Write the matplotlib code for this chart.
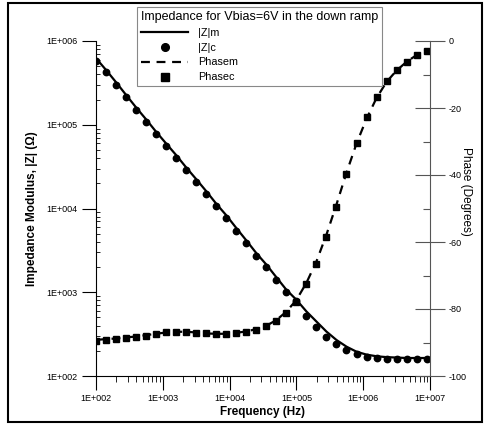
import matplotlib
matplotlib.use("Agg")
import matplotlib.pyplot as plt
from matplotlib.ticker import FuncFormatter, LogLocator, MultipleLocator
from matplotlib.patches import Rectangle
import numpy as np

plt.rcParams['font.family'] = ['Liberation Sans', 'DejaVu Sans']
plt.rcParams['axes.unicode_minus'] = False

# frequencies of the simulated / computed points (Hz)
freq = [100, 141, 200, 282, 398, 562, 794, 1122, 1585, 2239, 3162, 4467,
        6310, 8913, 12589, 17783, 25119, 35481, 50119, 70795, 100000,
        141254, 199526, 281838, 398107, 562341, 794328, 1122018, 1584893,
        2238721, 3162278, 4466836, 6309573, 8912509]

# |Z| measured (line) and computed (circles), Ohm
z_m = [6.22e5, 4.52e5, 3.21e5, 2.27e5, 1.61e5, 1.16e5, 8.24e4, 5.97e4,
       4.34e4, 3.09e4, 2.24e4, 1.61e4, 1.14e4, 8300, 5850, 4160, 2930,
       2140, 1510, 1070, 813, 590, 447, 339, 269, 224, 195, 180, 172, 168,
       166, 164, 164, 164]
z_c = [5.81e5, 4.22e5, 3.00e5, 2.12e5, 1.50e5, 1.08e5, 7.69e4, 5.57e4,
       4.05e4, 2.88e4, 2.09e4, 1.50e4, 1.07e4, 7745, 5458, 3882, 2735,
       1995, 1413, 1000, 776, 525, 389, 295, 240, 204, 182, 170, 162, 160,
       158, 158, 158, 158]

# phase measured (dashed) and computed (squares), degrees
ph_m = [-89.2, -89.0, -88.8, -88.5, -88.2, -87.8, -87.4, -87.0, -86.8, -86.8,
        -87.0, -87.3, -87.4, -87.4, -87.1, -86.7, -86.0, -85.0, -83.3, -80.8,
        -77.3, -72.2, -65.8, -57.8, -48.8, -39.3, -30.6, -23.2, -17.0, -12.2,
        -8.8, -6.2, -4.2, -2.6]
ph_c = [-89.5, -89.3, -89.0, -88.7, -88.4, -88.0, -87.5, -87.0, -86.8, -86.8,
        -87.1, -87.3, -87.6, -87.5, -87.3, -87.0, -86.3, -85.2, -83.5, -81.1,
        -77.8, -72.6, -66.6, -58.4, -49.5, -39.6, -30.5, -22.8, -16.6, -11.9,
        -8.7, -6.2, -4.2, -3.0]

W, H = 486, 426
fig = plt.figure(figsize=(W / 100, H / 100), dpi=100)
ax = fig.add_axes([96 / W, 1 - 376 / H, (430 - 96) / W, (376 - 41) / H])
ax2 = ax.twinx()

ax.plot(freq, z_m, '-', color='black', lw=1.6, label='|Z|m')
ax.plot(freq, z_c, 'o', color='black', ms=4.6, label='|Z|c')
ax2.plot(freq, ph_m, '--', color='black', lw=1.6, dashes=(4, 3), label='Phasem')
ax2.plot(freq, ph_c, 's', color='black', ms=4.6, label='Phasec')

ax.set_xscale('log')
ax.set_yscale('log')
ax.set_xlim(1e2, 1e7)
ax.set_ylim(1e2, 1e6)
ax2.set_ylim(-100, 0)


def sci(v, pos):
    return "1E+%03d" % int(round(np.log10(v)))


ax.xaxis.set_major_formatter(FuncFormatter(sci))
ax.yaxis.set_major_formatter(FuncFormatter(sci))
ax.xaxis.set_minor_locator(LogLocator(base=10, subs=np.arange(2, 10)))
ax.yaxis.set_minor_locator(LogLocator(base=10, subs=np.arange(2, 10)))
ax.xaxis.set_minor_formatter(plt.NullFormatter())
ax.yaxis.set_minor_formatter(plt.NullFormatter())
ax2.yaxis.set_major_locator(MultipleLocator(20))
ax2.yaxis.set_minor_locator(MultipleLocator(10))

for s in ['top', 'right']:
    ax.spines[s].set_visible(False)
for s in ['top', 'left', 'bottom']:
    ax2.spines[s].set_visible(False)
ax2.spines['right'].set_color('#555555')

ax.tick_params(axis='both', which='major', direction='out', length=10,
               width=0.8, labelsize=6.5, pad=3)
ax.tick_params(axis='x', which='minor', direction='out', length=4, width=0.6)
ax.tick_params(axis='y', which='minor', direction='in', length=3, width=0.6)
ax2.tick_params(axis='y', which='major', direction='inout', length=22,
                width=0.8, labelsize=6.5, pad=2.5, color='#555555')
ax2.tick_params(axis='y', which='minor', direction='in', length=5,
                width=0.8, color='#555555')

ax.set_xlabel('Frequency (Hz)', fontsize=8.5, fontweight='bold', labelpad=2)
ax.set_ylabel('Impedance Modulus, |Z| (Ω)', fontsize=8.5, fontweight='bold',
              labelpad=6)
ax2.set_ylabel('Phase (Degrees)', fontsize=8.5, rotation=-90)
ax2.yaxis.set_label_coords(1.127, 0.55)

h1, l1 = ax.get_legend_handles_labels()
h2, l2 = ax2.get_legend_handles_labels()
leg = fig.legend(h1 + h2, l1 + l2, loc='upper left',
                 bbox_to_anchor=(137 / W, 1 - 7 / H),
                 title='Impedance for Vbias=6V in the down ramp',
                 fontsize=7.8, title_fontsize=9, frameon=True,
                 fancybox=False, edgecolor='#888888', framealpha=1,
                 handlelength=4.4, handletextpad=0.9, labelspacing=0.45,
                 borderpad=0.35, borderaxespad=0, markerscale=1.2)
leg._legend_box.align = 'left'
leg.get_frame().set_linewidth(0.8)

fig.patches.append(Rectangle((8 / W, 1 - 422 / H), 474 / W, 419 / H,
                             transform=fig.transFigure, fill=False,
                             edgecolor='black', lw=1.5))

fig.savefig('out.png', dpi=100)
